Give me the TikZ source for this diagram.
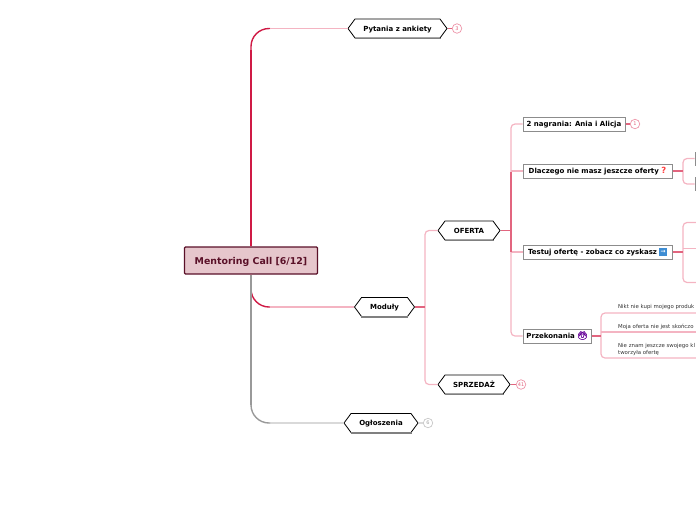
\documentclass[tikz,border=0pt]{standalone}
\usepackage{fontspec}
\setmainfont{DejaVu Sans}
\newfontfamily\emojifont[FakeBold=3]{Noto Emoji}
\usetikzlibrary{calc,shapes.symbols}
\definecolor{crim}{HTML}{CF1A45}
\definecolor{rosy}{HTML}{E2657F}
\definecolor{pale}{HTML}{F4B4C2}
\definecolor{maroon}{HTML}{5A1028}
\tikzset{
  root/.style={rectangle,rounded corners=1pt,draw=maroon,fill={rgb,255:red,230;green,198;blue,204},line width=1.2pt,
    text=maroon,font=\fontsize{9.4}{11}\selectfont\bfseries,minimum width=133pt,minimum height=27pt,inner sep=0pt,
    text height=8pt,text depth=.5pt},
  hex/.style={signal,signal to=east and west,signal pointer angle=107,draw=black,fill=white,line width=.8pt,
    font=\fontsize{7}{9}\selectfont\bfseries,minimum height=19pt,inner sep=0pt,text height=6pt,text depth=.5pt},
  hexedge/.style={draw=black!50,line width=1.3pt},
  sub/.style={rectangle,draw=black!45,fill=white,line width=1pt,font=\fontsize{7}{9}\selectfont\bfseries,
    minimum height=14pt,inner sep=0pt,text height=5.5pt,text depth=1pt},
  stub/.style={rectangle,draw=black!45,fill=white,line width=1pt,minimum width=12pt,minimum height=13pt,inner sep=0pt},
  leaf/.style={anchor=west,font=\fontsize{5.4}{6.7}\selectfont,text=black!80,inner sep=0pt,align=left},
  cnt/.style={circle,draw=pale!80!crim,fill=white,text=rosy,line width=.7pt,minimum size=9.5pt,inner sep=0pt,font=\fontsize{5}{5}\selectfont},
  cntg/.style={cnt,draw=black!22,text=black!35},
  icon/.style={fill=cyan!60!blue!80!white,text=white,inner sep=0pt,minimum size=7.5pt,text height=4pt,text depth=1pt,font=\fontsize{6}{6}\selectfont},
  trunk/.style={draw=crim,line width=2.2pt},
  trunkc/.style={draw=crim,line width=1.4pt,rounded corners=18pt},
  trunkg/.style={draw=black!40,line width=2.4pt},
  trunkgc/.style={draw=black!40,line width=1.4pt,rounded corners=18pt},
  lnk/.style={draw=pale,line width=1.2pt},
  lnkg/.style={draw=black!15,line width=1.2pt},
  lnkr/.style={draw=pale,line width=1.2pt,rounded corners=4pt},
  mid/.style={draw=rosy,line width=1.3pt},
  stem/.style={draw=rosy,line width=1.4pt},
}
\begin{document}
\begin{tikzpicture}[x=1pt,y=-1pt]
\useasboundingbox (0,0) rectangle (696,520);
\clip (0,0) rectangle (696,520);
% nodes
\node[root] (call) at (251,260.5) {Mentoring Call [6/12]};
\node[hex,minimum width=99pt] (ankieta) at (397.5,28.5) {Pytania z ankiety};
\node[hex,minimum width=60pt] (moduly) at (384.5,307) {Moduły};
\node[hex,minimum width=74pt] (ogl) at (381,423) {Ogłoszenia};
\node[hex,minimum width=62pt] (oferta) at (469,230.5) {OFERTA};
\node[hex,minimum width=72pt] (sprzedaz) at (474,384.5) {SPRZEDAŻ};
\node[sub,minimum width=102pt] (nagrania) at (574,124) {2 nagrania: Ania i Alicja};
\node[sub,minimum width=149pt] (dlaczego) at (597.5,171) {Dlaczego nie masz jeszcze oferty {\color{red!75!white}\fontsize{8.5}{8.5}\selectfont ?}};
\node[sub,minimum width=149pt] (testuj) at (597.5,252) {Testuj ofertę - zobacz co zyskasz
  \tikz[baseline=-2.5pt]\node[icon]{→};};
\node[sub,minimum width=68pt] (przek) at (557,336) {Przekonania {\emojifont\color{violet!80!blue}\fontsize{8}{8}\selectfont 🙆}};
\node[stub] (d1) at (701,158.5) {};
\node[stub] (d2) at (701,184) {};
\node[cnt] (n1) at (457,28.5) {3};
\node[cnt] (n2) at (635,124) {1};
\node[cnt] (n3) at (521,384.5) {41};
\node[cntg] (n4) at (428,423) {6};
\node[leaf] (p1) at (618,307.5) {Nikt nie kupi mojego produk};
\node[leaf] (p2) at (618,327.3) {Moja oferta nie jest skończo};
\node[leaf] (p3) at (618,349.8) {Nie znam jeszcze swojego kl\\tworzyła ofertę};
% free ends and turning points
\coordinate (ta) at (270,28.5);
\coordinate (tab) at (251,50);
\coordinate (tm) at (270,307);
\coordinate (tg) at (270,423);
\coordinate (tgb) at (251,405);
\coordinate (hm) at (425,307);
\coordinate (ho) at (511,230.5);
\coordinate (hd) at (683,171);
\coordinate (ht) at (683,252);
\coordinate (hp) at (601,336);
\coordinate (t1) at (696,222.5);
\coordinate (t2) at (696,248.5);
\coordinate (t3) at (696,282.5);
\coordinate (q1) at (696,313);
\coordinate (q2) at (696,332);
\coordinate (q3) at (696,358);
\coordinate (ou) at (511,172);
\coordinate (od) at (511,252);
% main branches
\draw[lnkg] (tg) -- (ogl.west);
\draw[trunkgc] (call.south) |- (tg);
\draw[trunkc] (call.north) |- (ta);
\draw[trunk] (call.north) -- (tab);
\draw[trunkc] (call.south) |- (tm);
\draw[trunkg] (call.south) -- (tgb);
\draw[lnk] (ta) -- (ankieta.west);
\draw[lnk] (tm) -- (moduly.west);
% second level
\draw[lnkr] (oferta.west) -| (hm) |- (sprzedaz.west);
\draw[stem] (moduly.east) -- (hm);
\draw[lnkr] (nagrania.west) -| (ho) |- (przek.west);
\draw[lnk] (dlaczego.west) -- (dlaczego.west -| ho);
\draw[lnk] (testuj.west) -- (testuj.west -| ho);
\draw[mid] (ou) -- (od);
\draw[stem] (oferta.east) -- (ho);
% third level
\draw[lnkr] (d1.west) -| (hd) |- (d2.west);
\draw[stem] (dlaczego.east) -- (hd);
\draw[lnkr] (t1) -| (ht) |- (t3);
\draw[lnk] (ht |- t2) -- (t2);
\draw[stem] (testuj.east) -- (ht);
\draw[lnkr] (q1) -| (hp) |- (q3);
\draw[lnk] (hp |- q2) -- (q2);
\draw[stem] (przek.east) -- (hp);
% counters
\draw[stem] (ankieta.east) -- (n1);
\draw[stem] (nagrania.east) -- (n2);
\draw[stem] (sprzedaz.east) -- (n3);
\draw[lnkg] (ogl.east) -- (n4);
\foreach \n in {ankieta,moduly,ogl,oferta,sprzedaz}
  \draw[hexedge] ($(\n.west |- \n.south)+(7,0)$) -- ($(\n.east |- \n.south)+(-7,0)$);
\end{tikzpicture}
\end{document}
